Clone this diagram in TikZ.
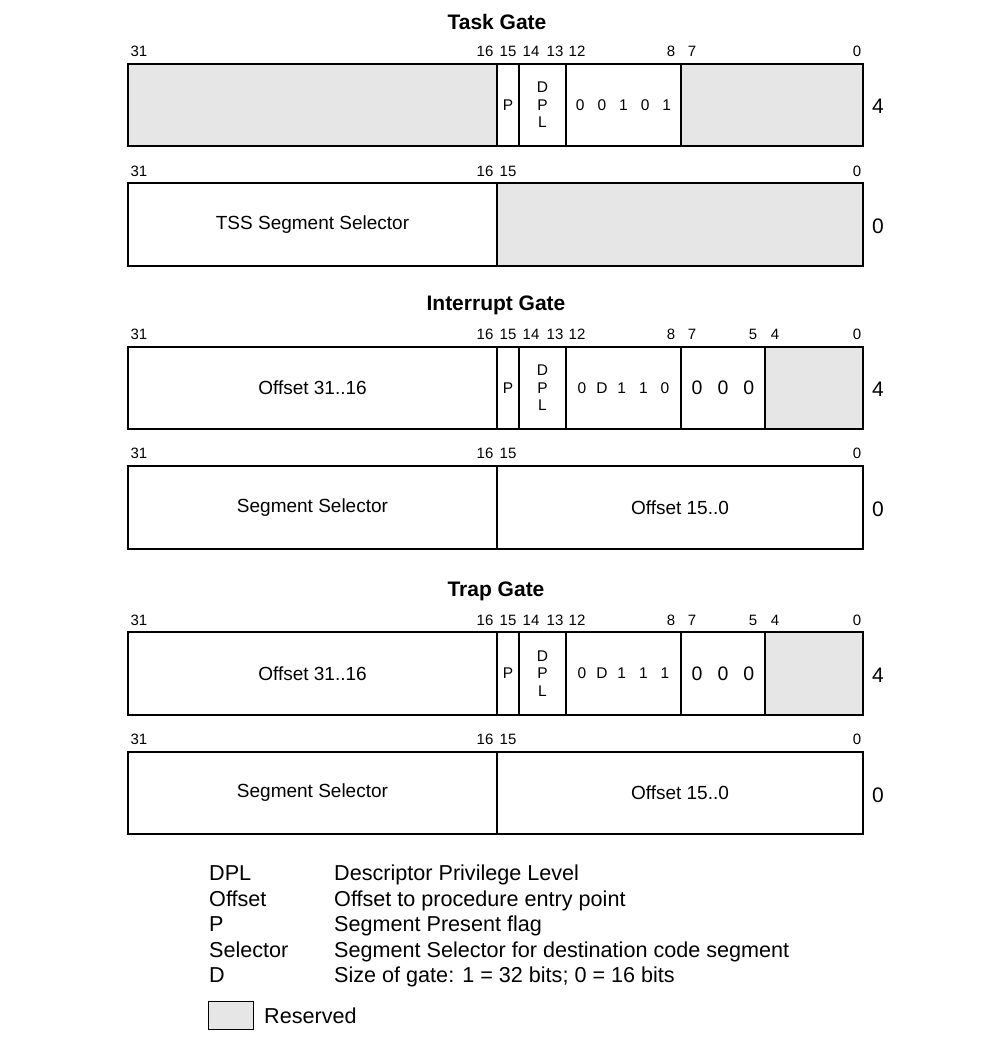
\documentclass[tikz,border=0pt]{standalone}
\usepackage{fontspec}
\setmainfont{Liberation Sans}
\definecolor{resv}{RGB}{230,230,230}

% one field of a descriptor word: name, x-left, y-top, x-right, y-bottom, extra style, text
\newcommand{\bitfield}[7]{%
  \node[field,#6,minimum width={#4-#2},minimum height={#5-#3}] (#1) at (#2,#3) {#7};}
% bit numbers over a word: prefix, y, list of x/label
\newcommand{\bitnumbers}[3]{%
  \foreach \bx/\bl in {#3} {\node[bitno] (#1-\bl) at (\bx,#2) {\bl};}}

\begin{document}
\begin{tikzpicture}[x=1pt,y=-1pt,
  field/.style={draw=black,line width=1.1pt,inner sep=0pt,outer sep=0pt,
    anchor=north west,align=center,font=\fontsize{19}{21}\selectfont},
  reserved/.style={fill=resv},
  small/.style={font=\fontsize{15.5}{17.5}\selectfont},
  bitno/.style={font=\fontsize{15}{17}\selectfont,inner sep=0pt},
  title/.style={font=\fontsize{21}{24}\selectfont\bfseries,inner sep=0pt},
  offs/.style={font=\fontsize{21}{24}\selectfont,inner sep=0pt},
  legend/.style={font=\fontsize{21.6}{24}\selectfont,inner sep=0pt,anchor=base west}]
\useasboundingbox (0,0) rectangle (1006,1040);

% ---------------- Task Gate ----------------
\node[title] (tgtitle) at (497,22) {Task Gate};
\bitnumbers{tg1}{51}{139/31,485/16,508/15,531/14,555/13,577/12,671/8,692/7,857/0}
\bitfield{tg-hi}{128}{64}{497}{146}{reserved}{}
\bitfield{tg-p}{497}{64}{519}{146}{small}{P}
\bitfield{tg-dpl}{519}{64}{566}{146}{small}{D\\P\\L}
\bitfield{tg-type}{566}{64}{681}{146}{small}{0\hspace{13pt}0\hspace{13pt}1\hspace{13pt}0\hspace{13pt}1}
\bitfield{tg-lo}{681}{64}{863}{146}{reserved}{}
\node[offs] (tg-off4) at (878,106) {4};

\bitnumbers{tg0}{171}{139/31,485/16,508/15,857/0}
\bitfield{tg-sel}{128}{183}{497}{266}{}{TSS Segment Selector}
\bitfield{tg-res}{497}{183}{863}{266}{reserved}{}
\node[offs] (tg-off0) at (878,226) {0};

% ---------------- Interrupt Gate ----------------
\node[title] (igtitle) at (496,305) {Interrupt Gate};
\bitnumbers{ig1}{334}{139/31,485/16,508/15,531/14,555/13,577/12,671/8,692/7,753/5,775/4,857/0}
\bitfield{ig-hi}{128}{347}{497}{429}{}{Offset 31..16}
\bitfield{ig-p}{497}{347}{519}{429}{small}{P}
\bitfield{ig-dpl}{519}{347}{566}{429}{small}{D\\P\\L}
\bitfield{ig-type}{566}{347}{681}{429}{small}{0\hspace{10pt}D\hspace{10pt}1\hspace{13pt}1\hspace{13pt}0}
\bitfield{ig-zero}{681}{347}{765}{429}{font=\fontsize{19.5}{22}\selectfont}{0\hspace{15pt}0\hspace{15pt}0}
\bitfield{ig-res}{765}{347}{863}{429}{reserved}{}
\node[offs] (ig-off4) at (878,389) {4};

\bitnumbers{ig0}{453}{139/31,485/16,508/15,857/0}
\bitfield{ig-sel}{128}{466}{497}{549}{}{Segment Selector}
\bitfield{ig-lo}{497}{466}{863}{549}{}{Offset 15..0}
\node[offs] (ig-off0) at (878,509) {0};

% ---------------- Trap Gate ----------------
\node[title] (trtitle) at (496,591) {Trap Gate};
\bitnumbers{tr1}{620}{139/31,485/16,508/15,531/14,555/13,577/12,671/8,692/7,753/5,775/4,857/0}
\bitfield{tr-hi}{128}{632}{497}{715}{}{Offset 31..16}
\bitfield{tr-p}{497}{632}{519}{715}{small}{P}
\bitfield{tr-dpl}{519}{632}{566}{715}{small}{D\\P\\L}
\bitfield{tr-type}{566}{632}{681}{715}{small}{0\hspace{10pt}D\hspace{10pt}1\hspace{13pt}1\hspace{13pt}1}
\bitfield{tr-zero}{681}{632}{765}{715}{font=\fontsize{19.5}{22}\selectfont}{0\hspace{15pt}0\hspace{15pt}0}
\bitfield{tr-res}{765}{632}{863}{715}{reserved}{}
\node[offs] (tr-off4) at (878,675) {4};

\bitnumbers{tr0}{739}{139/31,485/16,508/15,857/0}
\bitfield{tr-sel}{128}{752}{497}{834}{}{Segment Selector}
\bitfield{tr-lo}{497}{752}{863}{834}{}{Offset 15..0}
\node[offs] (tr-off0) at (878,795) {0};

% ---------------- Legend ----------------
\node[legend] (k1) at (209,880.5) {DPL};
\node[legend] (v1) at (334,880.5) {Descriptor Privilege Level};
\node[legend] (k2) at (209,906) {Offset};
\node[legend] (v2) at (334,906) {Offset to procedure entry point};
\node[legend] (k3) at (209,931.5) {P};
\node[legend] (v3) at (334,931.5) {Segment Present flag};
\node[legend] (k4) at (209,957) {Selector};
\node[legend] (v4) at (334,957) {Segment Selector for destination code segment};
\node[legend] (k5) at (209,982.5) {D};
\node[legend] (v5) at (334,982.5) {Size of gate: 1 = 32 bits; 0 = 16 bits};
\bitfield{swatch}{208}{1001}{253}{1029}{reserved,line width=0.8pt}{}
\node[legend] (swatch-lbl) at (264,1023.5) {Reserved};
\end{tikzpicture}
\end{document}
